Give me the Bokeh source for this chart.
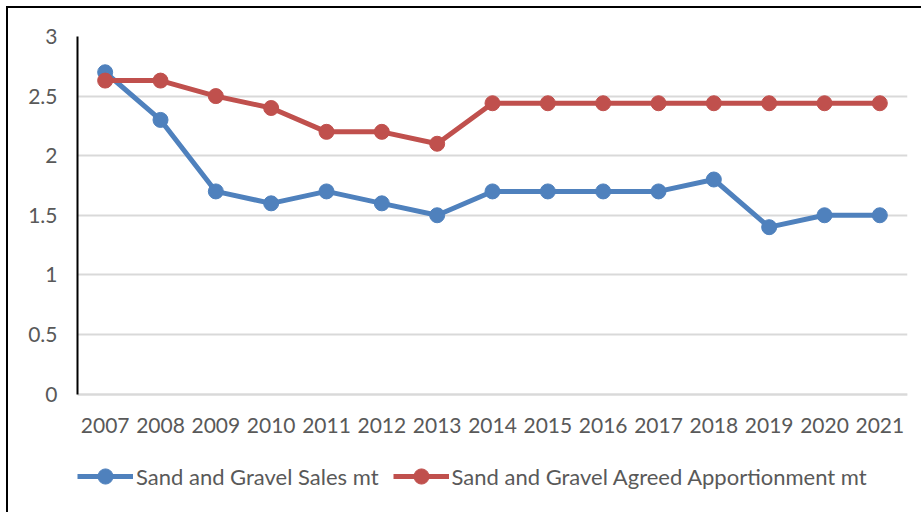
from bokeh.plotting import figure
from bokeh.models import ColumnDataSource, Legend, LegendItem, FixedTicker
from bokeh.embed import file_html
from bokeh.resources import INLINE

years = ["2007", "2008", "2009", "2010", "2011", "2012", "2013", "2014",
         "2015", "2016", "2017", "2018", "2019", "2020", "2021"]
sales = [2.7, 2.3, 1.7, 1.6, 1.7, 1.6, 1.5, 1.7, 1.7, 1.7, 1.7, 1.8, 1.4, 1.5, 1.5]
apportionment = [2.63, 2.63, 2.5, 2.4, 2.2, 2.2, 2.1, 2.44, 2.44, 2.44, 2.44,
                 2.44, 2.44, 2.44, 2.44]
y_ticks = [0, 0.5, 1, 1.5, 2, 2.5, 3]
names = ["Sand and Gravel Sales mt", "Sand and Gravel Agreed Apportionment mt"]

BLUE = "#4F81BD"
RED = "#C0504D"
FONT = "Lato"
TXT = "#595959"

src = ColumnDataSource(dict(x=years, sales=sales, app=apportionment))

# frame extends below zero so that the legend sits inside it
p = figure(width=915, height=506, x_range=years, y_range=(-1.011, 3),
           output_backend="svg", toolbar_location=None,
           min_border_left=69, min_border_top=28, min_border_right=16,
           min_border_bottom=0)
p.styles = {"border-top": "2px solid black", "border-left": "2px solid black",
            "box-sizing": "border-box", "margin": "6px 0 0 6px"}
p.outline_line_color = None
p.background_fill_color = "white"

l1 = p.line("x", "sales", source=src, line_color=BLUE, line_width=5)
s1 = p.scatter("x", "sales", source=src, size=15, fill_color=BLUE, line_color=BLUE)
l2 = p.line("x", "app", source=src, line_color=RED, line_width=5)
s2 = p.scatter("x", "app", source=src, size=15, fill_color=RED, line_color=RED)

p.yaxis.ticker = FixedTicker(ticks=y_ticks)
p.yaxis.bounds = (0, 3)
p.yaxis.major_label_overrides = {0: "0", 0.5: "0.5", 1: "1", 1.5: "1.5",
                                 2: "2", 2.5: "2.5", 3: "3"}
for ax in (p.xaxis, p.yaxis):
    ax.major_tick_line_color = None
    ax.minor_tick_line_color = None
    ax.major_label_text_font = FONT
    ax.major_label_text_font_size = "21px"
    ax.major_label_text_color = TXT
p.yaxis.axis_line_color = "black"
p.yaxis.axis_line_width = 2
p.yaxis.major_label_standoff = 14
p.xaxis.fixed_location = 0
p.xaxis.axis_line_color = "#D9D9D9"
p.xaxis.axis_line_width = 2
p.xaxis.major_label_standoff = 18

p.xgrid.grid_line_color = None
p.ygrid.grid_line_color = "#D9D9D9"
p.ygrid.grid_line_width = 2

legend = Legend(items=[LegendItem(label=names[0], renderers=[l1, s1]),
                       LegendItem(label=names[1], renderers=[l2, s2])],
                orientation="horizontal", location=(0, 19),
                glyph_width=56, glyph_height=38, label_standoff=3, spacing=14,
                padding=0, margin=0, border_line_color=None,
                background_fill_alpha=0,
                label_text_font=FONT, label_text_font_size="22px",
                label_text_color=TXT)
p.add_layout(legend, "center")

open("out.html", "w").write(file_html(p, INLINE))
